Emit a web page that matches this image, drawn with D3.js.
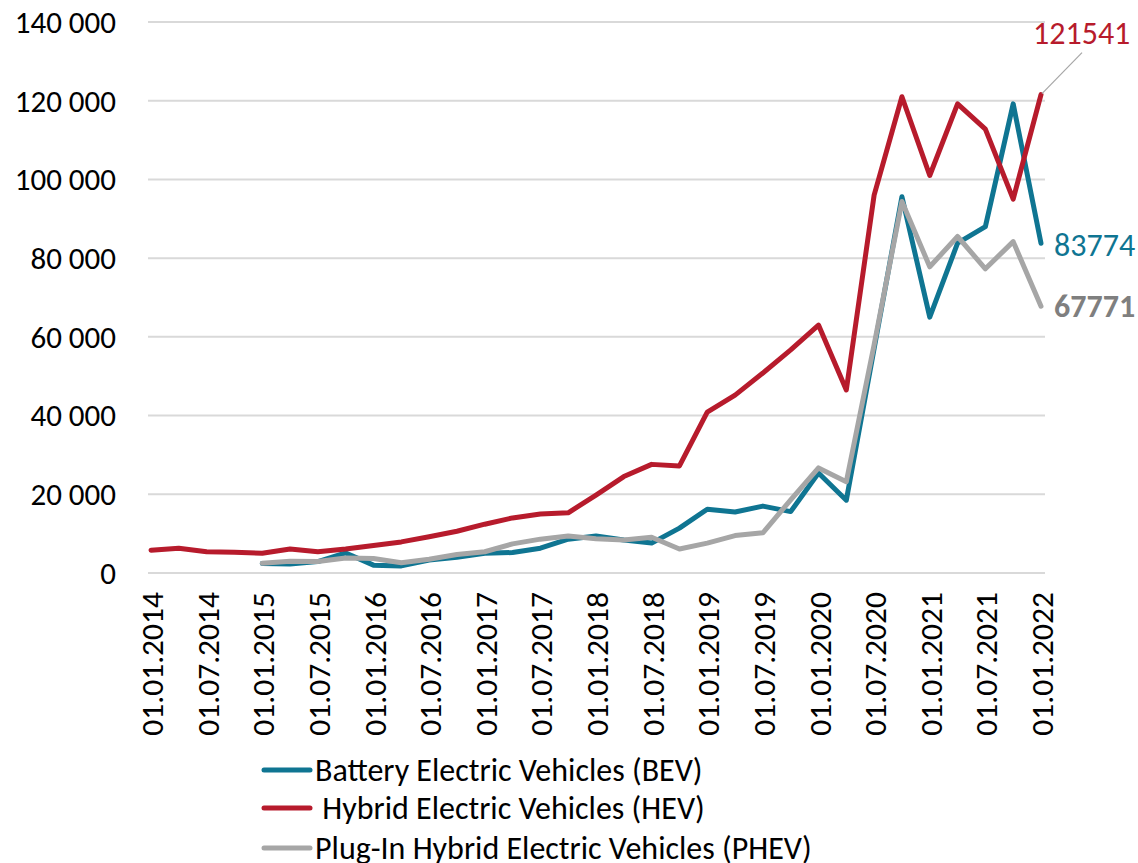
<!doctype html>
<html>
  <head>
    <title>Electric vehicles</title>
    <script src="https://cdnjs.cloudflare.com/ajax/libs/d3/7.8.5/d3.min.js"></script>
    <style>
      body { margin: 0; background: #fff; }
      svg { font-family: Carlito, Lato, "Open Sans", sans-serif; }
      line.grid { stroke: #d9d9d9; stroke-width: 2; }
      path.series { fill: none; stroke-width: 5; stroke-linejoin: round; stroke-linecap: round; }
      .ytick { font-size: 31px; fill: #000; }
      .xtick { font-size: 31.5px; fill: #000; }
      .legend text { font-size: 32px; fill: #000; }
      .endlabel { font-size: 32px; }
    </style>
  </head>
  <body>
    <svg width="1138" height="863"></svg>
    <script>
      var quarters = ["01.01.2014","01.04.2014","01.07.2014","01.10.2014",
        "01.01.2015","01.04.2015","01.07.2015","01.10.2015",
        "01.01.2016","01.04.2016","01.07.2016","01.10.2016",
        "01.01.2017","01.04.2017","01.07.2017","01.10.2017",
        "01.01.2018","01.04.2018","01.07.2018","01.10.2018",
        "01.01.2019","01.04.2019","01.07.2019","01.10.2019",
        "01.01.2020","01.04.2020","01.07.2020","01.10.2020",
        "01.01.2021","01.04.2021","01.07.2021","01.10.2021",
        "01.01.2022"];

      var bev = [null, null, null, null,
        2400, 2300, 2900, 5100, 2000, 1800, 3300, 4000,
        5000, 5200, 6300, 8600, 9400, 8400, 7600, 11400,
        16200, 15500, 17000, 15600, 25400, 18500, 57000, 95600,
        65000, 83800, 88000, 119200, 83774];

      var hev = [5800, 6300, 5400, 5300, 5000, 6100, 5400, 6100,
        7000, 7900, 9200, 10600, 12400, 14000, 15000, 15300,
        19800, 24500, 27600, 27200, 40900, 45200, 50800, 56700,
        63000, 46500, 96000, 121000, 101000, 119200, 112800, 95000,
        121541];

      var phev = [null, null, null, null,
        2500, 3000, 2900, 3800, 3700, 2600, 3500, 4700,
        5400, 7400, 8600, 9400, 8700, 8400, 9100, 6100,
        7600, 9500, 10200, 18600, 26700, 23200, 58000, 94400,
        77800, 85500, 77300, 84200, 67771];

      var yTicks = [0, 20000, 40000, 60000, 80000, 100000, 120000, 140000];

      var series = [
        {name: "Battery Electric Vehicles (BEV)", values: bev, color: "#0f7592"},
        {name: " Hybrid Electric Vehicles (HEV)", values: hev, color: "#b71b2c"},
        {name: "Plug-In Hybrid Electric Vehicles (PHEV)", values: phev, color: "#a6a6a6"}
      ];

      var svg = d3.select("svg");
      var plotLeft = 148, plotRight = 1045, plotTop = 22, plotBottom = 573;

      var x = d3.scalePoint().domain(quarters).range([151, 1041]);
      var y = d3.scaleLinear().domain([0, 140000]).range([plotBottom, plotTop]);

      // grid + y labels
      svg.selectAll("line.grid").data(yTicks).enter().append("line")
        .attr("class", "grid")
        .attr("x1", plotLeft).attr("x2", plotRight)
        .attr("y1", d => y(d)).attr("y2", d => y(d));

      svg.selectAll("text.ytick").data(yTicks).enter().append("text")
        .attr("class", "ytick")
        .attr("x", 116).attr("y", d => y(d))
        .attr("dy", "0.35em")
        .attr("text-anchor", "end")
        .text(d => d3.format(",")(d).replace(/,/g, " "));

      // x labels every half year
      var xLabels = quarters.filter((q, i) => i % 2 === 0);
      svg.selectAll("text.xtick").data(xLabels).enter().append("text")
        .attr("class", "xtick")
        .attr("transform", d => "translate(" + (x(d) + 1) + "," + (plotBottom + 19) + ") rotate(-90)")
        .attr("dy", "0.35em")
        .attr("text-anchor", "end")
        .text(d => d);

      var line = d3.line()
        .defined(d => d != null)
        .x((d, i) => x(quarters[i]))
        .y(d => y(d));

      svg.selectAll("path.series").data(series).enter().append("path")
        .attr("class", "series")
        .attr("stroke", d => d.color)
        .attr("d", d => line(d.values));

      // end labels
      var last = quarters[quarters.length - 1];
      var hevEnd = hev[hev.length - 1], bevEnd = bev[bev.length - 1], phevEnd = phev[phev.length - 1];
      svg.append("line")
        .attr("x1", x(last) + 1).attr("y1", y(hevEnd) - 1)
        .attr("x2", x(last) + 41).attr("y2", y(hevEnd) - 42)
        .attr("stroke", "#a6a6a6").attr("stroke-width", 1.2);

      svg.append("text").attr("class", "endlabel")
        .attr("x", 1033).attr("y", 44)
        .attr("fill", series[1].color)
        .text(hevEnd);
      svg.append("text").attr("class", "endlabel")
        .attr("x", 1054).attr("y", y(bevEnd) + 2)
        .attr("dy", "0.35em")
        .attr("fill", series[0].color)
        .text(bevEnd);
      svg.append("text").attr("class", "endlabel")
        .attr("x", 1054).attr("y", y(phevEnd))
        .attr("dy", "0.35em")
        .attr("fill", "#7f7f7f").style("font-weight", "bold")
        .text(phevEnd);

      // legend
      var lg = svg.append("g").attr("class", "legend");
      var legendY = [770, 808, 848];
      series.forEach(function(s, i) {
        lg.append("line")
          .attr("x1", 264).attr("x2", 310)
          .attr("y1", legendY[i]).attr("y2", legendY[i])
          .attr("stroke", s.color).attr("stroke-width", 5)
          .attr("stroke-linecap", "round");
        lg.append("text")
          .attr("x", 315).attr("y", legendY[i])
          .attr("dy", "0.35em")
          .style("white-space", "pre")
          .text(s.name);
      });
    </script>
  </body>
</html>
